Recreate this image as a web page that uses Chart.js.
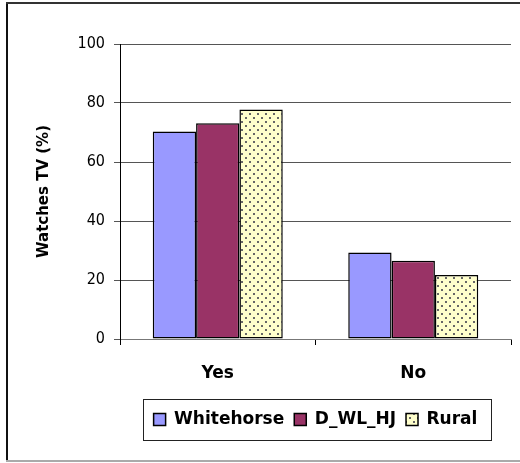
<!DOCTYPE html>
<html>
<head>
<meta charset="utf-8">
<script src="https://cdn.jsdelivr.net/npm/chart.js@4.4.1/dist/chart.umd.min.js"></script>
<style>
  html, body { margin: 0; padding: 0; background: #fff; }
  #wrap { width: 520px; height: 463px; }
</style>
</head>
<body>
<div id="wrap"><canvas id="tvChart" width="520" height="463"></canvas></div>
<script>
// values
const categories = ['Yes', 'No'];
const whitehorse = [70.3, 29.3];
const dWlHj = [73.1, 26.5];
const rural = [77.8, 21.7];
const yTicks = [0, 20, 40, 60, 80, 100];

const ctx = document.getElementById('tvChart').getContext('2d');

// light yellow with small dark dots, like the Excel "Rural" fill
function dotPattern(c2d) {
    const p = document.createElement('canvas');
    p.width = 8; p.height = 8;
    const c = p.getContext('2d');
    c.fillStyle = '#FFFFCC';
    c.fillRect(0, 0, 8, 8);
    c.fillStyle = '#666';
    c.fillRect(1, 1, 2, 2);
    c.fillRect(5, 5, 2, 2);
    return c2d.createPattern(p, 'repeat');
}

// outer frame + box around the legend
const framePlugin = {
    id: 'frame',
    beforeDraw(chart) {
        const c = chart.ctx;
        c.save();
        c.fillStyle = '#fff';
        c.fillRect(0, 0, chart.width, chart.height);
        c.restore();
    },
    afterDraw(chart) {
        const c = chart.ctx;
        c.save();
        c.fillStyle = '#111';
        c.fillRect(6, 2, 2, 459);
        c.fillStyle = '#333';
        c.fillRect(6, 2, 514, 2);
        c.fillStyle = '#aaa';
        c.fillRect(6, 460, 514, 2);

        const boxes = chart.legend.legendHitBoxes;
        if (boxes && boxes.length) {
            const first = boxes[0];
            const last = boxes[boxes.length - 1];
            const l = Math.round(first.left - 11);
            const r = Math.round(last.left + last.width + 14);
            const t = Math.round(first.top - 12);
            const b = Math.round(first.top + first.height + 12);
            c.strokeStyle = '#222';
            c.lineWidth = 1;
            c.strokeRect(l + 0.5, t + 0.5, r - l, b - t);
        }
        c.restore();
    }
};

const sans = "'DejaVu Sans', Verdana, sans-serif";

new Chart(ctx, {
    type: 'bar',
    data: {
        labels: categories,
        datasets: [
            { label: 'Whitehorse', data: whitehorse, backgroundColor: '#9999FF' },
            { label: 'D_WL_HJ', data: dWlHj, backgroundColor: '#993366' },
            { label: 'Rural', data: rural, backgroundColor: dotPattern(ctx) }
        ].map(ds => Object.assign(ds, {
            borderColor: '#000',
            borderWidth: 1.5,
            borderSkipped: false,
            barPercentage: 1,
            categoryPercentage: 0.665
        }))
    },
    options: {
        responsive: false,
        animation: false,
        layout: { padding: { top: 44, right: 9, left: 0, bottom: 25 } },
        plugins: {
            tooltip: { enabled: false },
            legend: {
                position: 'bottom',
                fullSize: false,
                labels: {
                    color: '#000',
                    boxWidth: 12,
                    boxHeight: 12,
                    padding: 10,
                    font: { family: sans, size: 17, weight: 'bold' }
                }
            }
        },
        scales: {
            x: {
                grid: { drawOnChartArea: false, drawTicks: true, tickLength: 6, color: '#000' },
                border: { color: '#777', width: 1 },
                ticks: { color: '#000', padding: 18, font: { family: sans, size: 17, weight: 'bold' } },
                afterFit(scale) { scale.height = 62; }
            },
            y: {
                min: 0,
                max: 100,
                afterBuildTicks(scale) { scale.ticks = yTicks.map(v => ({ value: v })); },
                grid: { color: '#555', tickLength: 6, drawTicks: true },
                border: { color: '#000', width: 1 },
                ticks: { color: '#000', padding: 9, font: { family: "'DejaVu Sans Condensed', 'DejaVu Sans', sans-serif", size: 16 } },
                title: {
                    display: true,
                    text: 'Watches TV (%)',
                    color: '#000',
                    padding: { top: 35, bottom: 0 },
                    font: { family: sans, size: 15, weight: 'bold' }
                },
                afterFit(scale) { scale.width = 120; }
            }
        }
    },
    plugins: [framePlugin]
});
</script>
</body>
</html>
